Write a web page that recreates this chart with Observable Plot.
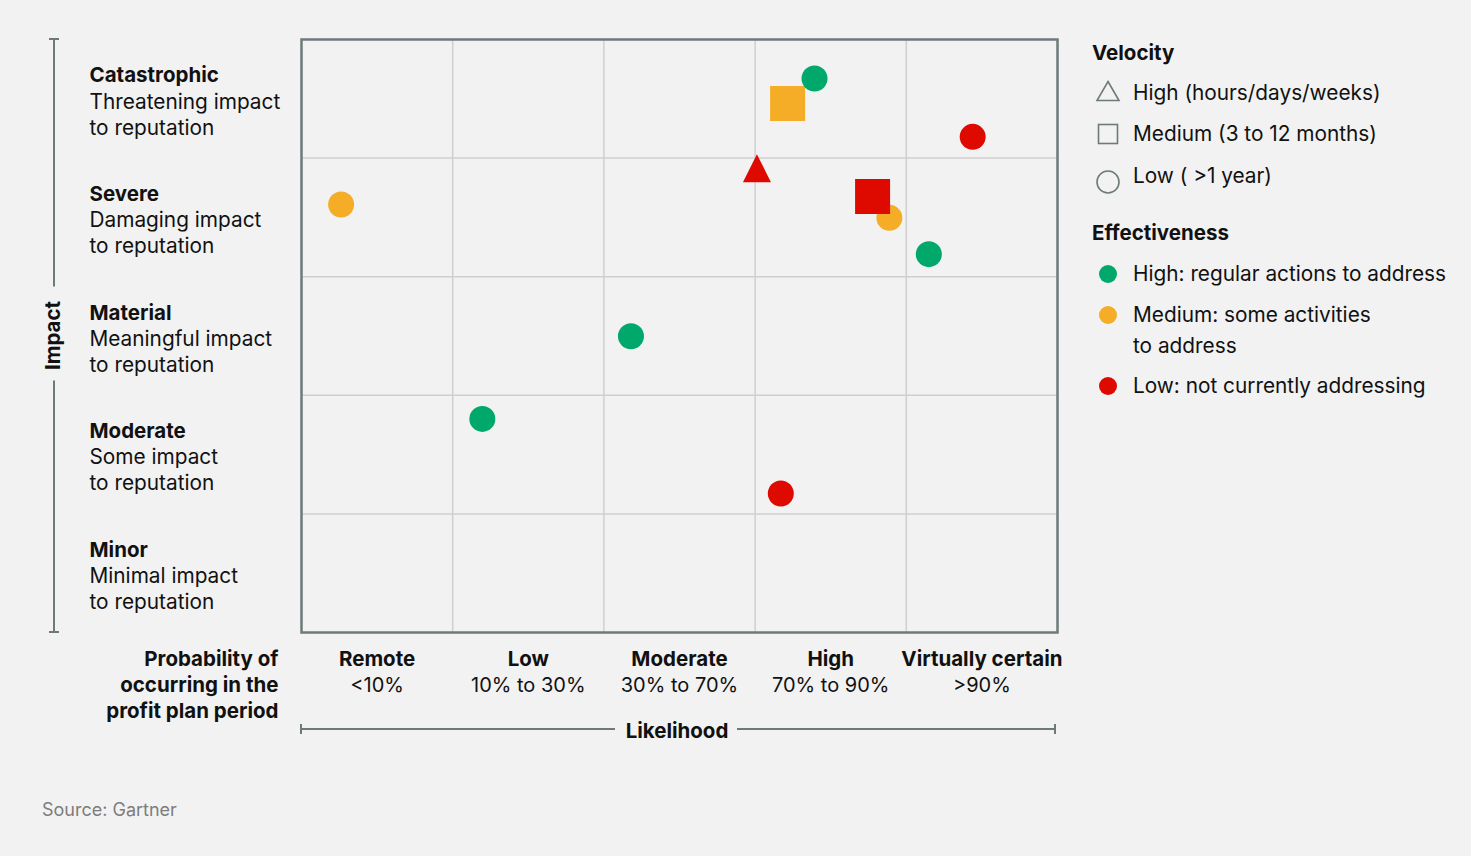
<!DOCTYPE html>
<html><head><meta charset="utf-8">
<script src="https://cdn.jsdelivr.net/npm/d3@7"></script>
<script src="https://cdn.jsdelivr.net/npm/@observablehq/plot@0.6"></script>
<style>
html,body{margin:0;padding:0;background:#f2f2f2;}
body{width:1471px;height:856px;position:relative;overflow:hidden;font-family:Inter,"Noto Sans",sans-serif;color:#111;}
#chart{position:absolute;left:0;top:0;}
#legend{position:absolute;left:0;top:0;}
.lg{position:absolute;font-size:20.8px;line-height:31px;white-space:pre;color:#111;}
.lg.head{font-weight:700;font-size:20.5px;}
.icon{position:absolute;}
#source{position:absolute;left:42px;top:798px;font-size:18px;line-height:24px;color:#7d7d7d;}
</style></head><body>
<div id="chart"></div>
<div id="legend"></div>
<div id="source"></div>
<script>
// ---------- data ----------
const impactLevels = ["Catastrophic", "Severe", "Material", "Moderate", "Minor"];
const impactDescriptions = ["Threatening impact\nto reputation", "Damaging impact\nto reputation", "Meaningful impact\nto reputation", "Some impact\nto reputation", "Minimal impact\nto reputation"];
const likelihoodLevels = ["Remote", "Low", "Moderate", "High", "Virtually certain"];
const likelihoodRanges = ["<10%", "10% to 30%", "30% to 70%", "70% to 90%", ">90%"];
const probabilityTitle = "Probability of\noccurring in the\nprofit plan period";
const impactAxisTitle = "Impact";
const likelihoodAxisTitle = "Likelihood";

const velocityLevels = ["High", "Medium", "Low"];
const velocityLabels = ["High (hours/days/weeks)", "Medium (3 to 12 months)", "Low ( >1 year)"];
const effectivenessLevels = ["High", "Medium", "Low"];
const effectivenessLabels = ["High: regular actions to address", "Medium: some activities\nto address", "Low: not currently addressing"];
const effectivenessColors = ["#00a86b", "#f5ac26", "#de0a00"];

// risks (likelihood 0–5 across columns, impact 0–5 up rows)
const riskLikelihood    = [3.215, 3.393, 4.439, 3.012, 3.888, 3.777, 4.149, 0.262, 2.179, 1.196, 3.170];
const riskImpact        = [4.460, 4.671, 4.179, 3.915, 3.496, 3.676, 3.190, 3.609, 2.498, 1.801, 1.172];
const riskVelocity      = ["Medium", "Low", "Low", "High", "Low", "Medium", "Low", "Low", "Low", "Low", "Low"];
const riskEffectiveness = ["Medium", "High", "Low", "Low", "Medium", "Low", "High", "Medium", "High", "High", "Low"];

const sourceText = "Source: Gartner";

// ---------- styles ----------
const AXIS_COLOR = "#6e7a7a";
const GRID_COLOR = "#cfcfcf";
const TEXT_COLOR = "#111";
const FONT = "Inter, 'Noto Sans', sans-serif";
const FS = 20.8, FSB = 20.5;

const risks = riskLikelihood.map((x, i) => ({
  likelihood: x, impact: riskImpact[i], velocity: riskVelocity[i], effectiveness: riskEffectiveness[i]
}));

// custom symbols (size = r² π)
const triangleSymbol = {draw(ctx, size) {
  const r = Math.sqrt(size / Math.PI), h = r * 14 / 13;
  ctx.moveTo(0, -h); ctx.lineTo(h, h); ctx.lineTo(-h, h); ctx.closePath();
}};
const squareSymbol = {draw(ctx, size) {
  const r = Math.sqrt(size / Math.PI), h = r * 17.5 / 13;
  ctx.rect(-h, -h, 2 * h, 2 * h);
}};

function axisDecorations(index, scales, values, dims) {
  const top = dims.marginTop, bottom = dims.height - dims.marginBottom;
  const left = dims.marginLeft, right = dims.width - dims.marginRight;
  const g = d3.create("svg:g");
  const ls = g.append("g").attr("stroke", AXIS_COLOR).attr("stroke-width", 2);
  const ax = 54, midY = (top + bottom) / 2;
  const line = (x1, y1, x2, y2) => ls.append("line").attr("x1", x1).attr("y1", y1).attr("x2", x2).attr("y2", y2);
  line(ax, top, ax, midY - 49);
  line(ax, midY + 45, ax, bottom);
  line(ax - 5, top, ax + 5, top);
  line(ax - 5, bottom, ax + 5, bottom);
  g.append("text")
    .attr("transform", `translate(${ax - 1},${midY}) rotate(-90)`)
    .attr("text-anchor", "middle").attr("dy", "0.35em")
    .attr("font-weight", 700).attr("font-size", FSB).attr("fill", TEXT_COLOR)
    .attr("font-family", FONT)
    .text(impactAxisTitle);
  const ly = 729, midX = (left + right) / 2 - 2, rEnd = right - 2;
  line(left, ly, midX - 62, ly);
  line(midX + 60, ly, rEnd, ly);
  line(left, ly - 5, left, ly + 5);
  line(rEnd, ly - 5, rEnd, ly + 5);
  g.append("text")
    .attr("x", midX).attr("y", ly + 2)
    .attr("text-anchor", "middle").attr("dy", "0.35em")
    .attr("font-weight", 700).attr("font-size", FSB).attr("fill", TEXT_COLOR)
    .attr("font-family", FONT)
    .text(likelihoodAxisTitle);
  return g.node();
}

const nRows = impactLevels.length;
const plot = Plot.plot({
  width: 1075,
  height: 760,
  marginLeft: 301,
  marginTop: 39,
  marginRight: 18,
  marginBottom: 128,
  style: {background: "transparent", fontFamily: FONT, fontSize: "20px", color: TEXT_COLOR, overflow: "visible"},
  x: {domain: [0, likelihoodLevels.length], axis: null},
  y: {domain: [0, nRows], axis: null},
  color: {domain: effectivenessLevels, range: effectivenessColors},
  symbol: {domain: velocityLevels, range: [triangleSymbol, squareSymbol, "circle"]},
  marks: [
    Plot.gridX(d3.range(1, likelihoodLevels.length), {stroke: GRID_COLOR, strokeOpacity: 1, strokeWidth: 1.5}),
    Plot.gridY(d3.range(1, nRows), {stroke: GRID_COLOR, strokeOpacity: 1, strokeWidth: 1.5}),
    Plot.frame({stroke: AXIS_COLOR, strokeWidth: 2.5}),
    // impact row labels
    Plot.text(impactLevels, {y: (d, i) => nRows - 0.5 - i, text: d => d, frameAnchor: "left", dx: -212, dy: -23,
      textAnchor: "start", fontWeight: 700, fontSize: FSB, fill: TEXT_COLOR}),
    Plot.text(impactDescriptions, {y: (d, i) => nRows - 0.5 - i, text: d => d, frameAnchor: "left", dx: -212, dy: 14.5,
      textAnchor: "start", lineAnchor: "middle", lineHeight: 26 / FS, fontSize: FS, fill: TEXT_COLOR}),
    // likelihood column labels
    Plot.text(likelihoodLevels, {x: (d, i) => i + 0.5, text: d => d, frameAnchor: "bottom", dy: 33,
      textAnchor: "middle", fontWeight: 700, fontSize: FSB, fill: TEXT_COLOR}),
    Plot.text(likelihoodRanges, {x: (d, i) => i + 0.5, text: d => d, frameAnchor: "bottom", dy: 59,
      textAnchor: "middle", fontSize: 20, fill: TEXT_COLOR}),
    Plot.text([probabilityTitle], {frameAnchor: "bottom-left", dx: -23, dy: 51, textAnchor: "end",
      lineAnchor: "middle", lineHeight: 26 / FSB, fontWeight: 700, fontSize: FSB, fill: TEXT_COLOR}),
    axisDecorations,
    // risks
    Plot.dot(risks, {x: "likelihood", y: "impact", symbol: "velocity", fill: "effectiveness", r: 13, stroke: "none"})
  ]
});
document.getElementById("chart").append(plot);

// ---------- legend ----------
const legend = d3.select("#legend");
const LEG_X = 1092, TXT_X = 1133, ICON_CX = 1108;
function addText(txt, cy, x, cls) {
  legend.append("div").attr("class", "lg " + (cls || "")).style("left", x + "px").style("top", (cy - 15.5) + "px").text(txt);
}
function addIcon(cy, drawFn) {
  const s = legend.append("svg").attr("class", "icon").attr("width", 30).attr("height", 30)
    .style("left", (ICON_CX - 15) + "px").style("top", (cy - 15) + "px");
  drawFn(s.append("g").attr("transform", "translate(15,15)"));
}
addText("Velocity", 52, LEG_X, "head");
const velY = [92, 133, 175];
const velIconY = [91, 134, 182];
velocityLabels.forEach((lab, i) => addText(lab, velY[i], TXT_X));
addIcon(velIconY[0], g => g.append("path").attr("d", "M0,-9.5L11,9.5L-11,9.5Z").attr("fill", "none").attr("stroke", AXIS_COLOR).attr("stroke-width", 1.6));
addIcon(velIconY[1], g => g.append("rect").attr("x", -9.5).attr("y", -9.5).attr("width", 19).attr("height", 19).attr("fill", "none").attr("stroke", AXIS_COLOR).attr("stroke-width", 1.6));
addIcon(velIconY[2], g => g.append("circle").attr("r", 11).attr("fill", "none").attr("stroke", AXIS_COLOR).attr("stroke-width", 1.6));

addText("Effectiveness", 232, LEG_X, "head");
const effY = [273, 314, 385];
effectivenessLabels.forEach((lab, i) => {
  addText(lab, effY[i], TXT_X);
  addIcon(effY[i] + 1, g => g.append("circle").attr("r", 9).attr("fill", effectivenessColors[i]));
});

document.getElementById("source").textContent = sourceText;
</script>
</body></html>
